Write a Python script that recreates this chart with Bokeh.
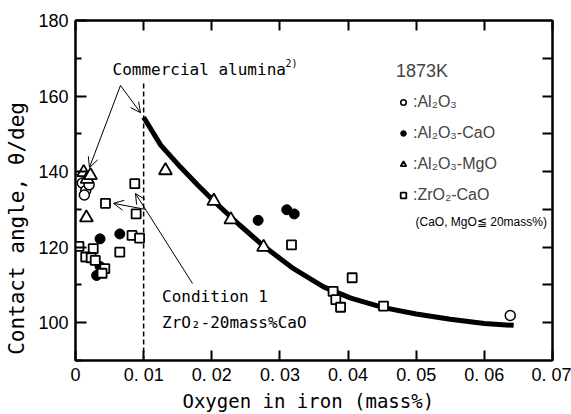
from bokeh.plotting import figure
from bokeh.models import (LinearAxis, FixedTicker, CustomJSTickFormatter,
                          Arrow, OpenHead, Label, Legend, LegendItem)
from bokeh.core.properties import value
from bokeh.embed import file_html
from bokeh.resources import INLINE

# ---------------- data ----------------
al2o3_x = [0.0010, 0.0015, 0.0020, 0.0013, 0.0638]
al2o3_y = [137.0, 135.0, 136.5, 133.8, 101.9]

al2o3_cao_x = [0.0036, 0.0065, 0.0036, 0.0031, 0.0268, 0.0310, 0.0321]
al2o3_cao_y = [122.2, 123.5, 114.9, 112.5, 127.1, 129.9, 128.8]

al2o3_mgo_x = [0.0012, 0.0017, 0.0022, 0.0016, 0.0132, 0.0203, 0.0228, 0.0276]
al2o3_mgo_y = [139.8, 138.0, 139.0, 127.8, 140.3, 132.2, 127.3, 120.0]

zro2_cao_x = [0.0005, 0.0026, 0.0015, 0.0023, 0.0029, 0.0043, 0.0039, 0.0044,
              0.0065, 0.0083, 0.0094, 0.0089, 0.0087, 0.0317, 0.0378, 0.0382,
              0.0389, 0.0406, 0.0452]
zro2_cao_y = [120.2, 119.6, 117.4, 117.2, 116.5, 114.3, 113.1, 131.6,
              118.7, 123.1, 122.4, 128.8, 136.8, 120.6, 108.3, 106.1,
              104.1, 111.9, 104.4]

curve_x = [0.0100, 0.0125, 0.0154, 0.0180, 0.0203, 0.0240, 0.0276, 0.0320,
           0.0364, 0.0404, 0.0452, 0.0500, 0.0550, 0.0600, 0.0643]
curve_y = [154.4, 147.0, 141.2, 136.3, 132.2, 126.0, 120.3, 114.3,
           109.5, 106.5, 104.0, 102.3, 100.9, 99.8, 99.3]

x_ticks = [0.0, 0.01, 0.02, 0.03, 0.04, 0.05, 0.06, 0.07]
x_tick_labels = ["0", "0. 01", "0. 02", "0. 03", "0. 04", "0. 05", "0. 06", "0. 07"]
y_ticks = [100, 120, 140, 160, 180]
y_minor = [90, 110, 130, 150, 170]
y_right_ticks = [100, 110, 120, 130, 140, 150, 160, 170]

series_labels = [":Al₂O₃", ":Al₂O₃-CaO", ":Al₂O₃-MgO", ":ZrO₂-CaO"]
x_title = "Oxygen in iron (mass%)"
y_title = "Contact angle,  θ/deg"

SANS = "Liberation Sans"
MONO = "DejaVu Sans Mono"
NBSP = "\u00a0"

p = figure(width=571, height=414, x_range=(0, 0.07), y_range=(90, 180),
           x_axis_type=None, y_axis_type=None,
           output_backend="svg", toolbar_location=None,
           min_border_left=75, min_border_right=19, min_border_top=20,
           min_border_bottom=54)
p.outline_line_color = "black"
p.outline_line_width = 2
p.background_fill_color = "white"
p.border_fill_color = "white"


def style(ax):
    ax.axis_line_width = 2
    ax.axis_line_color = "black"
    ax.major_tick_line_width = 2
    ax.minor_tick_line_width = 2
    ax.major_tick_out = 0
    ax.minor_tick_out = 0
    ax.major_label_text_font = SANS
    ax.major_label_text_font_size = "18px"
    ax.major_label_text_color = "black"
    ax.axis_label_text_font = MONO
    ax.axis_label_text_font_style = "normal"
    ax.axis_label_text_color = "black"


blank = CustomJSTickFormatter(code="return '';")

# trailing no-break spaces shift the centred title a little, as in the original
left = LinearAxis(ticker=FixedTicker(ticks=y_ticks, minor_ticks=y_minor),
                  axis_label=y_title + NBSP * 5)
style(left)
left.major_tick_in = 11
left.minor_tick_in = 6
left.major_label_standoff = 7
left.axis_label_text_font_size = "21px"
left.axis_label_standoff = 6
p.add_layout(left, "left")

bottom = LinearAxis(ticker=FixedTicker(ticks=x_ticks),
                    axis_label=x_title + NBSP,
                    formatter=CustomJSTickFormatter(
                        args=dict(tvals=x_ticks, tlabs=x_tick_labels),
                        code="""
let best = 0;
for (let i = 0; i < tvals.length; i++) {
  if (Math.abs(tvals[i] - tick) < Math.abs(tvals[best] - tick)) best = i;
}
return tlabs[best];
"""))
style(bottom)
bottom.major_tick_in = 10
bottom.minor_tick_in = 0
bottom.major_label_standoff = 4
bottom.axis_label_text_font_size = "19px"
bottom.axis_label_standoff = 2
p.add_layout(bottom, "below")

top = LinearAxis(ticker=FixedTicker(ticks=x_ticks), formatter=blank)
style(top)
top.major_tick_in = 10
top.minor_tick_in = 0
top.major_label_standoff = 0
p.add_layout(top, "above")

right = LinearAxis(ticker=FixedTicker(ticks=y_right_ticks), formatter=blank)
style(right)
right.major_tick_in = 10
right.minor_tick_in = 0
right.major_label_standoff = 0
p.add_layout(right, "right")

# fitted curve
p.line(curve_x, curve_y, line_width=5, line_color="black")

# dashed line at 0.01
p.line([0.01, 0.01], [90, 163.3], line_width=1.5, line_color="black",
       line_dash="5 3")

r_al = p.scatter(al2o3_x, al2o3_y, marker="circle", size=10,
                 fill_color="white", line_color="black", line_width=1.5)
r_ca = p.scatter(al2o3_cao_x, al2o3_cao_y, marker="circle", size=10,
                 fill_color="black", line_color="black", line_width=1)
r_mg = p.scatter(al2o3_mgo_x, al2o3_mgo_y, marker="triangle", size=13,
                 fill_color="white", line_color="black", line_width=1.8)
r_zr = p.scatter(zro2_cao_x, zro2_cao_y, marker="square", size=9,
                 fill_color="white", line_color="black", line_width=1.8)

legend = Legend(items=[LegendItem(label=value(series_labels[0]), renderers=[r_al]),
                       LegendItem(label=value(series_labels[1]), renderers=[r_ca]),
                       LegendItem(label=value(series_labels[2]), renderers=[r_mg]),
                       LegendItem(label=value(series_labels[3]), renderers=[r_zr])],
                location=(321, 155), title="1873K",
                title_text_font=SANS, title_text_font_size="18px",
                title_text_font_style="normal", title_standoff=10,
                label_text_font=SANS, label_text_font_size="16px",
                label_height=20, glyph_height=20, glyph_width=14,
                label_standoff=3, spacing=11, padding=0, margin=0,
                background_fill_alpha=0, border_line_alpha=0)
p.add_layout(legend)

p.add_layout(Label(x=0.0499, y=126.6, text="(CaO, MgO≦ 20mass%)",
                   text_font=SANS, text_font_size="12px",
                   text_baseline="middle", text_color="black"))

# annotations
p.add_layout(Label(x=0.00543, y=167.0, text="Commercial alumina",
                   text_font=MONO, text_font_size="16px",
                   text_baseline="middle", text_color="black"))
p.add_layout(Label(x=0.0308, y=168.6, text="2)",
                   text_font=MONO, text_font_size="10px",
                   text_baseline="middle", text_color="black"))
p.add_layout(Arrow(end=OpenHead(size=10, line_width=1), x_start=0.0066, y_start=162.8,
                   x_end=0.00205, y_end=141.1, line_width=1))
p.add_layout(Arrow(end=OpenHead(size=10, line_width=1), x_start=0.0066, y_start=162.8,
                   x_end=0.00954, y_end=155.6, line_width=1))

p.add_layout(Label(x=0.0127, y=106.9, text="Condition 1",
                   text_font=MONO, text_font_size="16px",
                   text_baseline="middle", text_color="black"))
p.add_layout(Label(x=0.0127, y=100.1, text="ZrO₂-20mass%CaO",
                   text_font=MONO, text_font_size="16px",
                   text_baseline="middle", text_color="black"))
p.add_layout(Arrow(end=OpenHead(size=10, line_width=1), x_start=0.01717, y_start=110.4,
                   x_end=0.0088, y_end=134.2, line_width=1))
p.add_layout(Arrow(end=OpenHead(size=10, line_width=1), x_start=0.01027, y_start=130.0,
                   x_end=0.00558, y_end=131.6, line_width=1))

open("out.html", "w").write(file_html(p, INLINE))
